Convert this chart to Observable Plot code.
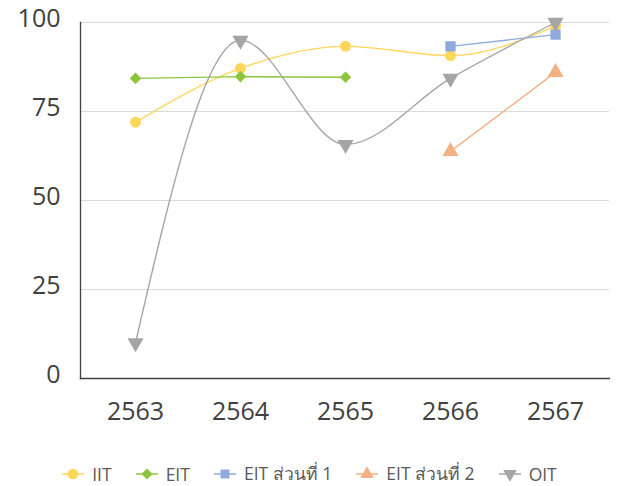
<!DOCTYPE html>
<html>
<head>
<meta charset="utf-8">
<script src="https://cdn.jsdelivr.net/npm/d3@7"></script>
<script src="https://cdn.jsdelivr.net/npm/@observablehq/plot@0.6"></script>
<style>
  body { margin: 0; background: #fff; font-family: "Open Sans", "Noto Sans", "DejaVu Sans", sans-serif; }
  #wrap { position: relative; width: 619px; height: 486px; }
  #legend { position: absolute; left: 0; top: 460px; width: 619px; display: flex; justify-content: center; align-items: center; font-size: 17.5px; color: #595959; }
  .item { display: flex; align-items: center; margin: 0 12px; }
  .item svg { margin-right: 8px; }
</style>
</head>
<body>
<div id="wrap">
  <div id="chart"></div>
  <div id="legend"></div>
</div>
<script>
const years = ["2563", "2564", "2565", "2566", "2567"];
const seriesNames = ["IIT", "EIT", "EIT ส่วนที่ 1", "EIT ส่วนที่ 2", "OIT"];
const iit  = [72, 87.1, 93.3, 90.7, 99];
const eit  = [84.3, 84.8, 84.6, null, null];
const eit1 = [null, null, null, 93.3, 96.6];
const eit2 = [null, null, null, 63.8, 86];
const oit  = [10, 95, 65.7, 84.3, 100];
const yTicks = [0, 25, 50, 75, 100];

const colors = ["#FFD65C", "#8CC63F", "#8FAADC", "#F4B183", "#A5A5A5"];
const symbols = ["circle", "diamond2", "square", "triangle", "triangle"];
const rotates = [0, 0, 0, 0, 180];
const sizes = [5.5, 5.2, 5.8, 6, 6];
const curves = ["monotone-x", "linear", "linear", "linear", "monotone-x"];
const values = [iit, eit, eit1, eit2, oit];

function rows(i) {
  return years.map((y, j) => ({year: y, value: values[i][j], series: seriesNames[i]}))
    .filter(d => d.value != null);
}

const marks = [
  Plot.ruleY([25, 50, 75, 100], {stroke: "#d9d9d9", strokeWidth: 1}),
  Plot.axisY({ticks: yTicks, tickSize: 0, tickPadding: 20, fontSize: 25, dy: -4, color: "#404040", label: null}),
  Plot.axisX({tickSize: 0, tickPadding: 24, fontSize: 25, color: "#404040", label: null}),
  Plot.frame({anchor: "left", stroke: "#404040", strokeWidth: 1.3}),
  Plot.frame({anchor: "bottom", stroke: "#404040", strokeWidth: 1.3})
];
values.forEach((v, i) => {
  const data = rows(i);
  marks.push(Plot.line(data, {x: "year", y: "value", stroke: colors[i], strokeWidth: 1.4, curve: curves[i]}));
  marks.push(Plot.dot(data, {x: "year", y: "value", fill: colors[i], symbol: symbols[i], r: sizes[i], rotate: rotates[i]}));
});

const chart = Plot.plot({
  width: 619,
  height: 440,
  marginLeft: 80,
  marginRight: 10,
  marginTop: 22,
  marginBottom: 62,
  style: {fontFamily: "'Open Sans', 'Noto Sans', 'DejaVu Sans', sans-serif", background: "#fff"},
  x: {type: "point", domain: years, padding: 0.5},
  y: {domain: [0, 100]},
  marks
});
document.getElementById("chart").appendChild(chart);

const legend = document.getElementById("legend");
seriesNames.forEach((name, i) => {
  const item = document.createElement("div");
  item.className = "item";
  const sym = d3.symbol().type({
    circle: d3.symbolCircle, diamond2: d3.symbolDiamond2, square: d3.symbolSquare, triangle: d3.symbolTriangle
  }[symbols[i]]).size(symbols[i] === "circle" ? 90 : 80)();
  item.innerHTML = `<svg width="22" height="16"><line x1="0" x2="22" y1="8" y2="8" stroke="${colors[i]}" stroke-width="1.5"/><path d="${sym}" transform="translate(11,8) rotate(${rotates[i]})" fill="${colors[i]}"/></svg><span>${name}</span>`;
  legend.appendChild(item);
});
</script>
</body>
</html>
